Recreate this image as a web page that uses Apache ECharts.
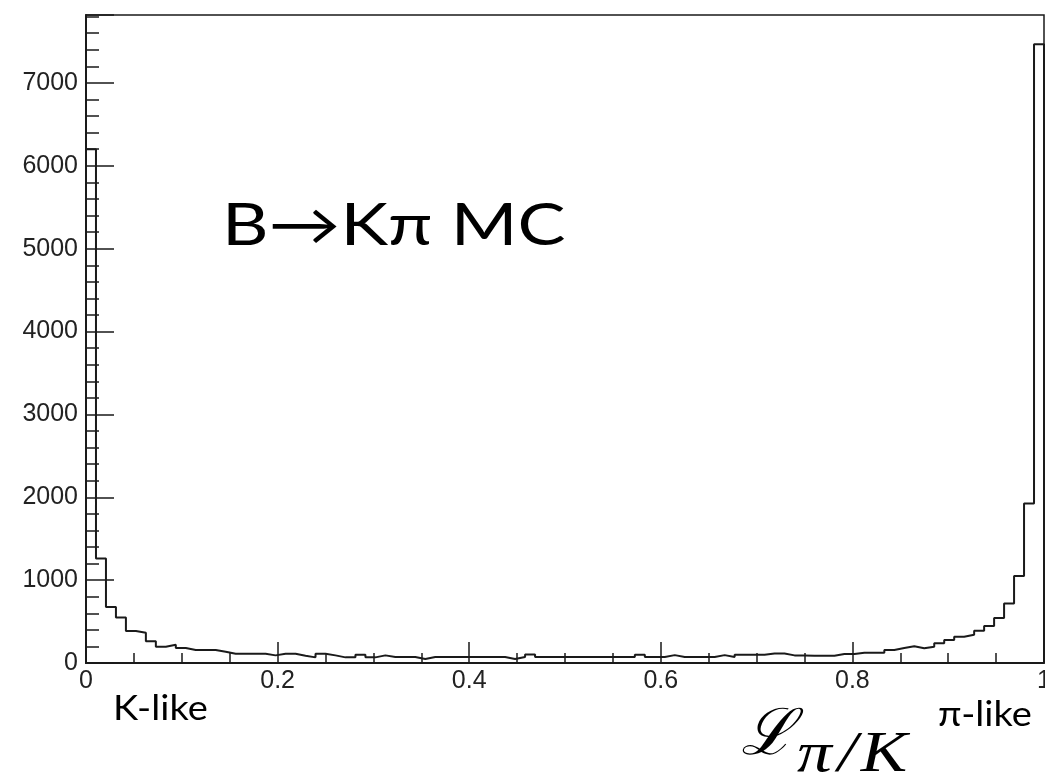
<!DOCTYPE html>
<html>
<head>
<meta charset="utf-8">
<script src="https://cdn.jsdelivr.net/npm/echarts@6/dist/echarts.min.js"></script>
<style>
  html, body { margin: 0; padding: 0; background: #fff; }
  #chart { width: 1045px; height: 781px; }
</style>
</head>
<body>
<div id="chart"></div>
<script>
// histogram binning (x range 0..1)
const binLow = 0;
const binHigh = 1;
// counts per bin
const binCounts = [
  6200, 1260, 675, 550, 386, 365, 261, 197, 221, 181,
  157, 157, 157, 135, 112, 112, 112, 112, 92, 112,
  112, 88, 68, 112, 92, 68, 68, 100, 68, 92,
  72, 72, 72, 48, 72, 72, 72, 72, 72, 72,
  72, 72, 48, 72, 104, 72, 72, 72, 72, 72,
  72, 72, 72, 72, 72, 100, 72, 72, 95, 72,
  72, 72, 72, 95, 72, 100, 100, 100, 115, 115,
  92, 92, 88, 88, 88, 108, 108, 124, 124, 124,
  157, 181, 201, 177, 197, 237, 277, 317, 341, 390,
  446, 542, 719, 1050, 1925, 7466
];
const yMax = 7820;
const yTicks = [0, 1000, 2000, 3000, 4000, 5000, 6000, 7000];
const xTicks = [0, 0.2, 0.4, 0.6, 0.8, 1];

const binWidth = (binHigh - binLow) / binCounts.length;
const stepData = binCounts.map((c, i) => [binLow + i * binWidth, c]);
stepData.push([binHigh, binCounts[binCounts.length - 1]]);
stepData.push([binHigh, 0]);

const ink = '#1a1a1a';
const labelFont = { fontFamily: 'Liberation Sans', fontSize: 25, color: '#222' };

const chart = echarts.init(document.getElementById('chart'));
chart.setOption({
  animation: false,
  backgroundColor: '#fff',
  grid: {
    left: 86, right: 1, top: 15, bottom: 118,
    outerBoundsMode: 'none', containLabel: false,
    show: true, borderColor: ink, borderWidth: 1.5
  },
  xAxis: {
    type: 'value', min: binLow, max: binHigh, interval: 0.2,
    axisLine: { onZero: false, lineStyle: { color: ink, width: 2 } },
    axisTick: { inside: true, length: 21, lineStyle: { color: ink, width: 1.5 } },
    minorTick: { show: true, splitNumber: 4, length: 10, lineStyle: { color: ink, width: 1.5 } },
    splitLine: { show: false },
    axisLabel: {
      ...labelFont, margin: 6,
      formatter: v => (xTicks.some(t => Math.abs(t - v) < 1e-9) ? String(+v.toFixed(1)) : '')
    }
  },
  yAxis: [
    {
      type: 'value', min: 0, max: yMax, interval: 1000,
      axisLine: { show: true, lineStyle: { color: ink, width: 2 } },
      axisTick: { inside: true, length: 28, lineStyle: { color: ink, width: 1.5 } },
      splitLine: { show: false },
      axisLabel: {
        ...labelFont, margin: 8,
        formatter: v => (yTicks.includes(v) ? String(v) : '')
      }
    },
    {
      // minor ticks every 200
      type: 'value', min: 0, max: yMax, interval: 200, position: 'left',
      axisLine: { show: false },
      axisTick: { inside: true, length: 13, lineStyle: { color: ink, width: 1.5 } },
      splitLine: { show: false },
      axisLabel: { show: false }
    }
  ],
  series: [{
    type: 'line',
    step: 'end',
    data: stepData,
    showSymbol: false,
    clip: true,
    lineStyle: { color: ink, width: 2 }
  }],
  graphic: [
    {
      type: 'text', x: 222, y: 197, scaleX: 1.24,
      style: { text: 'B→Kπ MC', font: '58px Lato', fill: '#000', verticalAlign: 'top' }
    },
    {
      type: 'text', x: 113, y: 692, scaleX: 1.12,
      style: { text: 'K-like', font: '34px Lato', fill: '#000', verticalAlign: 'top' }
    },
    {
      type: 'text', x: 938, y: 698, scaleX: 1.12,
      style: { text: 'π-like', font: '34px Lato', fill: '#000', verticalAlign: 'top' }
    },
    {
      type: 'text', x: 741, y: 705,
      style: { text: 'ℒ', font: 'italic 64px "DejaVu Serif"', fill: '#000', verticalAlign: 'top' }
    },
    {
      type: 'text', x: 797, y: 727, scaleX: 1.2,
      style: {
        text: '{p|π}{s|/}{k|K}', verticalAlign: 'top', fill: '#000',
        rich: {
          p: { font: 'italic 58px "Liberation Serif"' },
          s: { font: 'italic 58px "Liberation Serif"', padding: [0, 3, 0, 5] },
          k: { font: 'italic 58px "Liberation Serif"' }
        }
      }
    }
  ]
});
</script>
</body>
</html>
